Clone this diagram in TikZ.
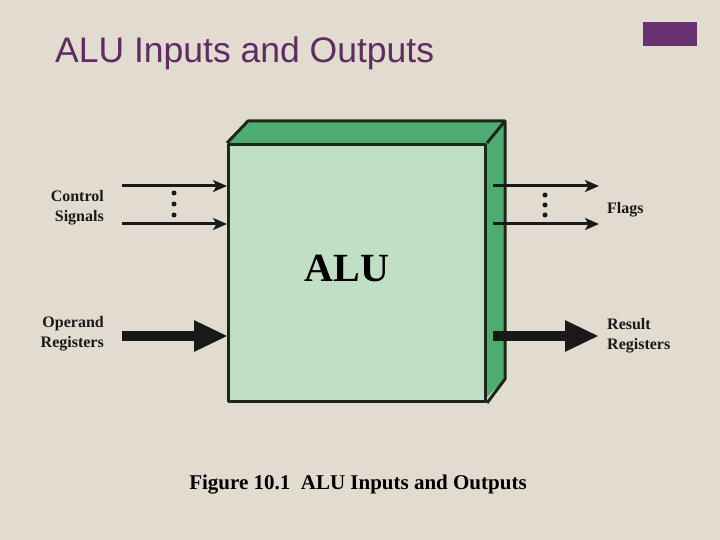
\documentclass[tikz,border=0pt]{standalone}
\usepackage{fontspec}
\setmainfont{Liberation Serif}
\newfontfamily\arialfont{Liberation Sans}
\usetikzlibrary{arrows.meta}
\definecolor{bgbeige}{HTML}{E2DBCF}
\definecolor{titlepurple}{HTML}{5E2C60}
\definecolor{tagpurple}{HTML}{6A3272}
\definecolor{facelight}{HTML}{C0DFC4}
\definecolor{facedark}{HTML}{4DAD70}
\definecolor{edgecol}{HTML}{1C261C}
\begin{document}
\begin{tikzpicture}[x=1pt,y=-1pt,
  lbl/.style={font=\bfseries\fontsize{16}{20}\selectfont, text=black!90, inner sep=0pt},
  thinarrow/.style={line width=3pt, black!90, -{Stealth[length=14pt,width=12pt,inset=3.5pt]}},
  thickarrow/.style={line width=10.5pt, black!90, -{Triangle[length=34pt,width=29pt]}},
  dotmark/.style={circle, fill=black!90, inner sep=0pt, minimum size=5pt},
  boxedge/.style={draw=edgecol, line width=3pt, line join=round}]
\useasboundingbox (0,0) rectangle (720,540);
\fill[bgbeige] (0,0) rectangle (720,540);
% title and tag
\node[anchor=west, inner sep=0pt, text=titlepurple, font=\arialfont\fontsize{35.5}{40}\selectfont] (title) at (55,53) {ALU Inputs and Outputs};
\node[fill=tagpurple, minimum width=54pt, minimum height=24pt, inner sep=0pt, anchor=north west] (tag) at (643,22) {};
% box faces
\fill[facedark] (227,143) -- (248,121) -- (505,121) -- (484,143) -- cycle;
\fill[facedark] (484,143) -- (505,121) -- (505,379) -- (484,400) -- cycle;
\node[boxedge, fill=facelight, minimum width=257pt, minimum height=257pt, inner sep=0pt, anchor=north west] (alu) at (227,143) {};
\node[font=\bfseries\fontsize{40}{40}\selectfont, inner sep=0pt] (alutext) at (347,268) {ALU};
\draw[boxedge] (alu.north west) -- (248,121) -- (505,121) -- (505,379) -- (alu.south east);
\draw[boxedge] (alu.north east) -- (505,121);
% input side
\coordinate (c1s) at (122,186); \coordinate (c1e) at (227,186);
\coordinate (c2s) at (122,224); \coordinate (c2e) at (227,224);
\coordinate (ops) at (122,336); \coordinate (ope) at (228,336);
\draw[thinarrow] (c1s) -- (c1e);
\draw[thinarrow] (c2s) -- (c2e);
\draw[thickarrow] (ops) -- (ope);
\node[dotmark] (cd1) at (174,193) {};
\node[dotmark] (cd2) at (174,204) {};
\node[dotmark] (cd3) at (174,215) {};
\node[lbl, anchor=east, align=right] (ctrl) at (104,208) {Control\\Signals};
\node[lbl, anchor=east, align=right] (oper) at (104,334) {Operand\\Registers};
% output side
\coordinate (f1s) at (493,186); \coordinate (f1e) at (599,186);
\coordinate (f2s) at (493,224); \coordinate (f2e) at (599,224);
\coordinate (rs) at (493,336); \coordinate (re) at (599,336);
\draw[thinarrow] (f1s) -- (f1e);
\draw[thinarrow] (f2s) -- (f2e);
\draw[thickarrow] (rs) -- (re);
\node[dotmark] (fd1) at (545,195) {};
\node[dotmark] (fd2) at (545,205) {};
\node[dotmark] (fd3) at (545,215) {};
\node[lbl, anchor=west] (flags) at (607,210) {Flags};
\node[lbl, anchor=west, align=left] (res) at (607,336) {Result\\Registers};
% caption
\node[font=\bfseries\fontsize{21}{24}\selectfont, inner sep=0pt] (cap) at (358,485) {Figure 10.1\ \ ALU Inputs and Outputs};
\end{tikzpicture}
\end{document}
